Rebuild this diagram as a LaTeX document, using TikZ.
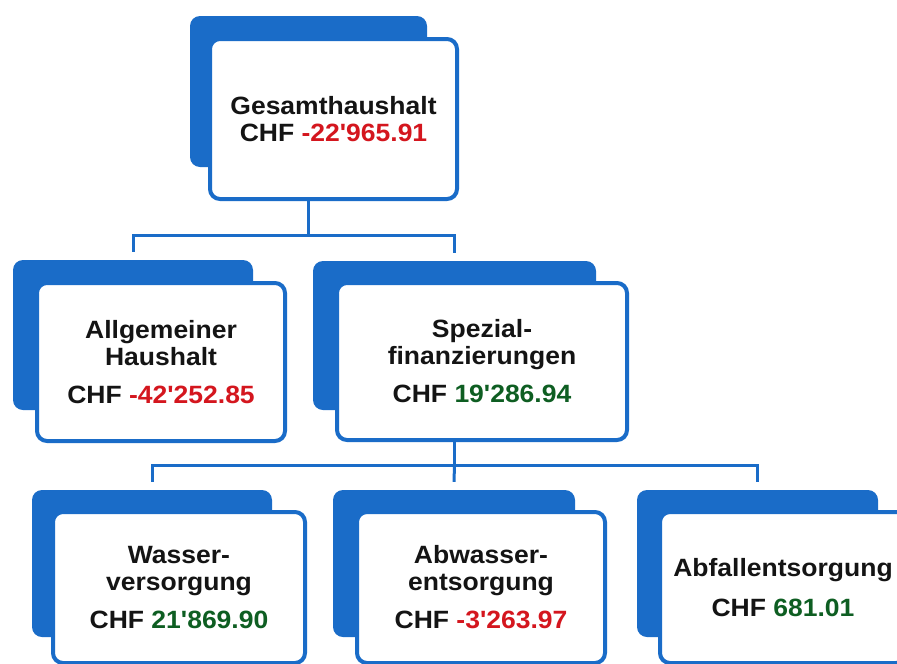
\documentclass[tikz,border=0pt]{standalone}
\usepackage{fontspec}
\setmainfont{Liberation Sans}[FakeStretch=1.06,Ligatures=TeXOff]
\definecolor{boxblue}{RGB}{26,108,200}
\definecolor{negred}{RGB}{212,22,30}
\definecolor{posgreen}{RGB}{14,94,34}
\definecolor{txtblack}{RGB}{20,20,20}
\newcommand{\negamt}[1]{\textcolor{negred}{#1}}
\newcommand{\posamt}[1]{\textcolor{posgreen}{#1}}
\begin{document}
\begin{tikzpicture}[x=1pt,y=-1pt,
  backbox/.style={fill=boxblue, rounded corners=10pt, inner sep=0pt},
  frontbox/.style={draw=boxblue, line width=4pt, fill=white, rounded corners=10pt,
    align=center, inner sep=0pt, text=txtblack,
    font=\bfseries\fontsize{25}{27}\selectfont},
  conn/.style={draw=boxblue, line width=3pt}]
\useasboundingbox (0,0) rectangle (897,664);
\clip (0,0) rectangle (897,664);
\fill[white] (0,0) rectangle (897,664);

% top
\node[backbox, minimum width=237pt, minimum height=151pt] (gB) at (308.5,91.5) {};
\node[frontbox, minimum width=247pt, minimum height=160pt] (g) at (333.5,119)
  {Gesamthaushalt\\CHF \negamt{-22'965.91}};

% middle
\node[backbox, minimum width=240pt, minimum height=150pt] (alB) at (133,335) {};
\node[frontbox, minimum width=248pt, minimum height=158pt] (al) at (161,362)
  {Allgemeiner\\Haushalt\\[11pt]CHF \negamt{-42'252.85}};
\node[backbox, minimum width=283pt, minimum height=149pt] (spB) at (454.5,335.5) {};
\node[frontbox, minimum width=290pt, minimum height=157pt] (sp) at (482,361.5)
  {Spezial-\\finanzierungen\\[11pt]CHF \posamt{19'286.94}};

% bottom
\node[backbox, minimum width=240pt, minimum height=147pt] (waB) at (152,563.5) {};
\node[frontbox, minimum width=252pt, minimum height=151pt] (wa) at (179,587.5)
  {Wasser-\\versorgung\\[11pt]CHF \posamt{21'869.90}};
\node[backbox, minimum width=242pt, minimum height=147pt] (abB) at (454,563.5) {};
\node[frontbox, minimum width=248pt, minimum height=151pt] (ab) at (481,587.5)
  {Abwasser-\\entsorgung\\[11pt]CHF \negamt{-3'263.97}};
\node[backbox, minimum width=241pt, minimum height=147pt] (afB) at (757.5,563.5) {};
\node[frontbox, minimum width=246pt, minimum height=151pt] (af) at (783,587.5)
  {Abfallentsorgung\\[13pt]CHF \posamt{681.01}};

% connectors
\draw[conn] (gB.center |- g.south) -- ++(0,34) coordinate (j1);
\draw[conn] ([yshift=8pt]alB.north) |- (j1) -| ([yshift=8pt]spB.north);
\draw[conn] (spB.center |- sp.south) -- ++(0,23) coordinate (j2);
\draw[conn] ([yshift=8pt]waB.north) |- (j2) -| ([yshift=8pt]afB.north);
\draw[conn] (j2) -- ([yshift=8pt]abB.north);
\end{tikzpicture}
\end{document}
